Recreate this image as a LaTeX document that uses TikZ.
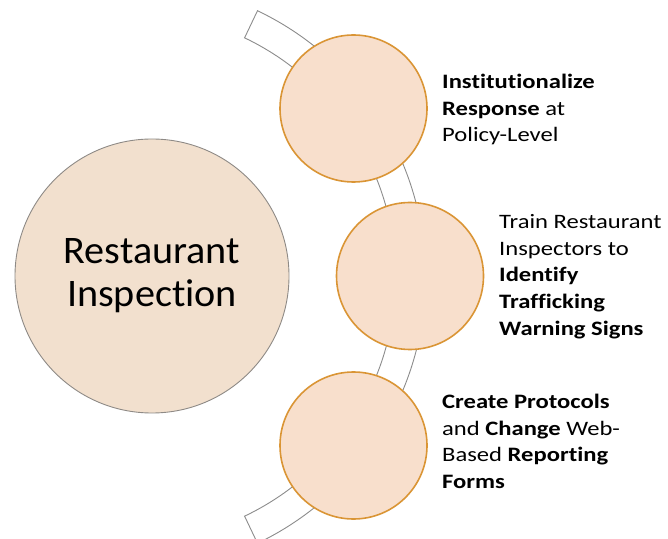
\documentclass[tikz,border=0pt]{standalone}
\usepackage{fontspec}
\setmainfont{Carlito}[Ligatures=NoCommon]
\newfontfamily\descfont[FakeStretch=1.2,Ligatures=NoCommon]{Carlito}
\newfontfamily\bigfont[FakeStretch=1.03,Ligatures=NoCommon]{Carlito}
\definecolor{bigfill}{HTML}{F2E0CE}
\definecolor{bigline}{HTML}{8E8A86}
\definecolor{smallfill}{HTML}{F8DFCC}
\definecolor{smallline}{HTML}{DA9535}
\definecolor{bandline}{HTML}{8C8C8C}
\tikzset{
  bigcircle/.style={circle, fill=bigfill, draw=bigline, line width=0.9pt, minimum size=274pt, inner sep=0pt, align=center, font=\bigfont\fontsize{39}{43}\selectfont},
  stepcircle/.style={circle, fill=smallfill, draw=smallline, line width=1.6pt, minimum size=147pt, inner sep=0pt},
  band/.style={fill=white, draw=bandline, line width=0.9pt},
  desc/.style={anchor=north west, inner sep=0pt, align=left, font=\descfont\fontsize{20.5}{26.7}\selectfont}
}
\begin{document}
\begin{tikzpicture}[x=1pt,y=1pt]
\useasboundingbox (0,0) rectangle (668,538);
% arc band
\draw[band, shift={(130.5,261)}] (64.5:295pt) arc[start angle=64.5, end angle=-64.5, radius=295pt]
  -- (-64.5:265pt) arc[start angle=-64.5, end angle=64.5, radius=265pt] -- cycle;
% circles
\node[bigcircle] (big) at (152,262) {Restaurant\\Inspection};
\node[stepcircle] (c1) at (353.5,429.5) {};
\node[stepcircle] (c2) at (410,262) {};
\node[stepcircle] (c3) at (353.5,92.5) {};
% texts
\node[desc] (t1) at (442,464) {\textbf{Institutionalize}\\\textbf{Response} at\\Policy-Level};
\node[desc] (t2) at (499,324) {Train Restaurant\\Inspectors to\\\textbf{Identify}\\\textbf{Trafficking}\\\textbf{Warning Signs}};
\node[desc] (t3) at (442,144) {\textbf{Create Protocols}\\and \textbf{Change} Web-\\Based \textbf{Reporting}\\\textbf{Forms}};
\end{tikzpicture}
\end{document}
